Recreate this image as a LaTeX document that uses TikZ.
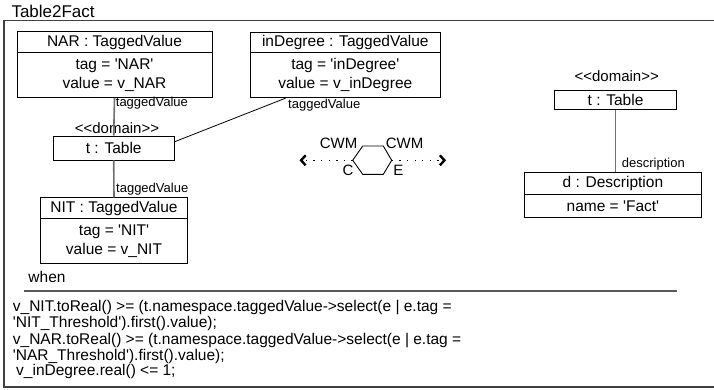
\documentclass[tikz,border=0pt]{standalone}
\usepackage{fontspec}
\setmainfont{Liberation Sans}
\usetikzlibrary{arrows.meta,calc}
\definecolor{framegray}{HTML}{404040}
\definecolor{linkgray}{HTML}{707070}
\definecolor{rulegray}{HTML}{5A5A5A}
\newcommand{\q}{\textquotesingle}
% keep the angle brackets of a stereotype from turning into guillemets
\newcommand{\stereotype}[1]{<\kern0pt<#1>\kern0pt>}
\tikzset{
  cell/.style={draw, line width=0.9pt, inner sep=0pt, align=center,
    font=\fontsize{15.5}{19}\selectfont},
  lbl/.style={inner sep=0pt, anchor=west, font=\fontsize{13}{15}\selectfont},
  stereo/.style={inner sep=0pt, font=\fontsize{15}{17}\selectfont},
  hexlbl/.style={inner sep=0pt, font=\fontsize{15}{17}\selectfont},
  code/.style={inner sep=0pt, anchor=base west, font=\fontsize{15.5}{17}\selectfont},
  link/.style={draw=linkgray, line width=1.6pt},
  thinlink/.style={draw=black, line width=0.8pt},
  dotarrow/.style={line width=1.3pt, dash pattern=on 1.3pt off 6.3pt,
    -{Straight Barb[length=4.5pt,width=10pt,line width=2.4pt]}},
}
\begin{document}
\begin{tikzpicture}[x=1pt,y=-1pt]
\useasboundingbox (0,0) rectangle (714,389);

% title and enclosing frame
\node[inner sep=0pt, anchor=west, font=\fontsize{17}{19}\selectfont] (title) at (11.3,11) {Table2Fact};
\draw[framegray, line width=1.5pt] (4,20.7) rectangle (718,387);

% NAR tagged value
\node[cell, minimum width=195pt, minimum height=20.5pt] (narH) at (114.5,42) {NAR : TaggedValue};
\node[cell, minimum width=195pt, minimum height=45.5pt] (narB) at (114.5,75) {tag = \q NAR\q\\value = v\_NAR};

% inDegree tagged value
\node[cell, minimum width=189.3pt, minimum height=20.5pt] (indH) at (345.3,42.5) {inDegree : TaggedValue};
\node[cell, minimum width=189.3pt, minimum height=45pt] (indB) at (345.3,75.2) {tag = \q inDegree\q\\value = v\_inDegree};

% left table
\node[cell, minimum width=120.7pt, minimum height=24pt] (tblL) at (113.7,148) {t : Table};
\node[stereo] (domL) at (117,127.7) {\stereotype{domain}};

% NIT tagged value
\node[cell, minimum width=146.6pt, minimum height=20.6pt] (nitH) at (114,208) {NIT : TaggedValue};
\node[cell, minimum width=146.6pt, minimum height=45pt] (nitB) at (114,240.8) {tag = \q NIT\q\\value = v\_NIT};

% connectors of the left table
\draw[link] (narB.south) -- (tblL.north);
\draw[link] (tblL.south) -- (nitH.north);
\draw[thinlink] ($(tblL.north east)!0.25!(tblL.south east)$) -- ($(indB.south west)!0.186!(indB.south east)$);
\node[lbl] (tv1) at (115.7,103) {taggedValue};
\node[lbl] (tv2) at (116,189) {taggedValue};
\node[lbl] (tv3) at (288,105) {taggedValue};

% transformation symbol
\coordinate (hxL) at (352.7,160.3);
\coordinate (hxTL) at (362.7,146);
\coordinate (hxTR) at (383.3,146);
\coordinate (hxR) at (391.7,160.3);
\coordinate (hxBR) at (383.3,174.3);
\coordinate (hxBL) at (362.7,174.3);
\coordinate (tipL) at (299.5,160.3);
\coordinate (tipR) at (446,160.3);
\draw[line width=0.9pt] (hxL) -- (hxTL) -- (hxTR) -- (hxR) -- (hxBR) -- (hxBL) -- cycle;
\draw[dotarrow] (hxL) -- (tipL);
\draw[dotarrow] (hxR) -- (tipR);
\node[hexlbl] (cwmL) at (338.5,143.3) {CWM};
\node[hexlbl] (cwmR) at (404.5,143.3) {CWM};
\node[hexlbl] (domC) at (348,170.7) {C};
\node[hexlbl] (domE) at (398.3,170.7) {E};

% right table and description
\node[cell, minimum width=122.4pt, minimum height=19pt] (tblR) at (615.5,99.8) {t : Table};
\node[stereo] (domR) at (616.7,76) {\stereotype{domain}};
\node[cell, minimum width=177.7pt, minimum height=21.6pt] (descH) at (612.9,183.5) {d : Description};
\node[cell, minimum width=177.7pt, minimum height=23.4pt] (descB) at (612.9,206) {name = \q Fact\q};
\draw[link] (tblR.south) -- (tblR.south |- descH.north);
\node[lbl] (descL) at (621.7,164) {description};

% guard section
\node[inner sep=0pt, font=\fontsize{15.5}{17}\selectfont] (when) at (47,276.7) {when};
\coordinate (ruleA) at (24,291);
\coordinate (ruleB) at (677,291);
\draw[rulegray, line width=1.8pt] (ruleA) -- (ruleB);
\node[code] (c1) at (12.7,311.2) {v\_NIT.toReal() >= (t.namespace.taggedValue->select(e | e.tag =};
\node[code] (c2) at (12.7,327) {\q NIT\_Threshold\q).first().value);};
\node[code] (c3) at (12.7,344.2) {v\_NAR.toReal() >= (t.namespace.taggedValue->select(e | e.tag =};
\node[code] (c4) at (12.7,360.4) {\q NAR\_Threshold\q).first().value);};
\node[code] (c5) at (16,375.4) {v\_inDegree.real() <= 1;};
\end{tikzpicture}
\end{document}
